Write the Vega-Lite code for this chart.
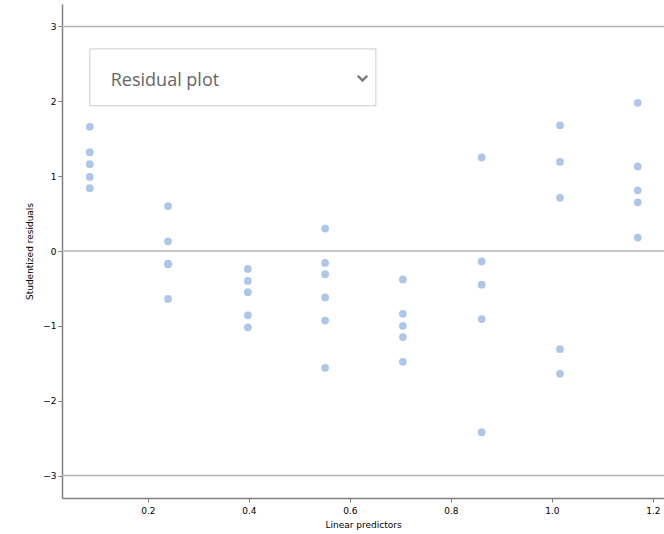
{
  "$schema": "https://vega.github.io/schema/vega-lite/v6.json",
  "autosize": "none",
  "width": 602,
  "height": 494,
  "padding": {"left": 62, "top": 4, "right": 0, "bottom": 36},
  "config": {
    "view": {"stroke": null},
    "axis": {
      "grid": false,
      "domainColor": "#808080",
      "domainWidth": 1.5,
      "tickColor": "#808080",
      "tickSize": 4,
      "labelColor": "#000000",
      "labelFont": "DejaVu Sans",
      "labelFontSize": 9,
      "titleFont": "DejaVu Sans",
      "titleFontSize": 9,
      "titleFontWeight": "normal",
      "titleColor": "#000000"
    }
  },
  "datasets": {
    "points": [
      {"x": 0.085, "y": 1.66}, {"x": 0.085, "y": 1.32}, {"x": 0.085, "y": 1.16}, {"x": 0.085, "y": 0.99}, {"x": 0.085, "y": 0.84},
      {"x": 0.240, "y": 0.60}, {"x": 0.240, "y": 0.13}, {"x": 0.240, "y": -0.17}, {"x": 0.240, "y": -0.18}, {"x": 0.240, "y": -0.64},
      {"x": 0.398, "y": -0.24}, {"x": 0.398, "y": -0.40}, {"x": 0.398, "y": -0.55}, {"x": 0.398, "y": -0.86}, {"x": 0.398, "y": -1.02},
      {"x": 0.551, "y": 0.30}, {"x": 0.551, "y": -0.16}, {"x": 0.551, "y": -0.31}, {"x": 0.551, "y": -0.62}, {"x": 0.551, "y": -0.93}, {"x": 0.551, "y": -1.56},
      {"x": 0.705, "y": -0.38}, {"x": 0.705, "y": -0.84}, {"x": 0.705, "y": -1.00}, {"x": 0.705, "y": -1.15}, {"x": 0.705, "y": -1.48},
      {"x": 0.861, "y": 1.25}, {"x": 0.861, "y": -0.14}, {"x": 0.861, "y": -0.45}, {"x": 0.861, "y": -0.91}, {"x": 0.861, "y": -2.42},
      {"x": 1.016, "y": 1.68}, {"x": 1.016, "y": 1.19}, {"x": 1.016, "y": 0.71}, {"x": 1.016, "y": -1.31}, {"x": 1.016, "y": -1.64},
      {"x": 1.170, "y": 1.98}, {"x": 1.170, "y": 1.13}, {"x": 1.170, "y": 0.81}, {"x": 1.170, "y": 0.65}, {"x": 1.170, "y": 0.18}
    ],
    "refs": [{"y": -3}, {"y": 0}, {"y": 3}]
  },
  "layer": [
    {
      "data": {"name": "refs"},
      "mark": {"type": "rule", "color": "#b4b4b4", "strokeWidth": 1.6},
      "encoding": {"y": {"field": "y", "type": "quantitative"}}
    },
    {
      "data": {"name": "points"},
      "mark": {"type": "point", "filled": true, "color": "#aec7e8", "opacity": 1, "size": 60},
      "encoding": {
        "x": {"field": "x", "type": "quantitative", "scale": {"domain": [0.03, 1.222], "nice": false, "zero": false},
              "axis": {"values": [0.2, 0.4, 0.6, 0.8, 1.0, 1.2], "format": ".1f", "title": "Linear predictors", "labelPadding": 4, "titlePadding": 5}},
        "y": {"field": "y", "type": "quantitative", "scale": {"domain": [-3.3, 3.3], "nice": false, "zero": false},
              "axis": {"values": [-3, -2, -1, 0, 1, 2, 3], "format": "d", "title": "Studentized residuals", "titlePadding": 8}}
      }
    },
    {
      "data": {"values": [{"label": "Residual plot"}]},
      "mark": {"type": "rect", "fill": "#ffffff", "stroke": "#cccccc", "strokeWidth": 1},
      "encoding": {
        "x": {"datum": 0.0851},
        "x2": {"datum": 0.6515},
        "y": {"datum": 2.70},
        "y2": {"datum": 1.94}
      }
    },
    {
      "data": {"values": [{"label": "Residual plot"}]},
      "mark": {"type": "text", "align": "left", "baseline": "middle", "font": "Open Sans", "fontSize": 18, "color": "#666666"},
      "encoding": {
        "x": {"datum": 0.1265},
        "y": {"datum": 2.27},
        "text": {"field": "label"}
      }
    },
    {
      "data": {"values": [{"label": "v"}]},
      "mark": {"type": "point", "shape": "M-1,-0.5L0,0.5L1,-0.5", "filled": false, "stroke": "#444444", "strokeWidth": 2.4, "size": 90},
      "encoding": {
        "x": {"datum": 0.625},
        "y": {"datum": 2.31}
      }
    }
  ]
}
